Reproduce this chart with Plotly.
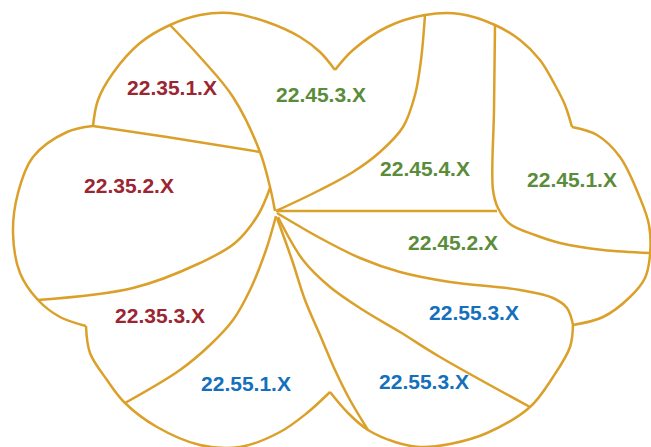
import plotly.graph_objects as go

# ---- data ----
region_labels = ["22.35.1.X", "22.35.2.X", "22.35.3.X",
                 "22.45.3.X", "22.45.4.X", "22.45.1.X", "22.45.2.X",
                 "22.55.3.X", "22.55.3.X", "22.55.1.X"]
region_groups = ["22.35", "22.35", "22.35",
                 "22.45", "22.45", "22.45", "22.45",
                 "22.55", "22.55", "22.55"]

# ---- styling / layout geometry (pixel space of the diagram) ----
group_colors = {"22.35": "#9B2632", "22.45": "#5A8C3A", "22.55": "#1470BC"}
line_color = "#DBA02A"

label_xy = [(172, 90), (129, 188), (160, 318),
            (321, 97), (425, 171), (572, 182), (453, 245),
            (474, 315), (424, 384), (246, 386)]

# outline lobes (cusps at the ends of each piece)
outline = [
    [(93, 126), (98, 100), (113, 73), (140, 43), (170, 25), (200, 15), (230, 13),
     (267, 22), (300, 37), (320, 52), (335, 70)],
    [(335, 70), (353, 50), (387, 27), (425, 15), (460, 14), (495, 25), (520, 40),
     (540, 60), (555, 85), (565, 105), (572, 127)],
    [(572, 127), (597, 135), (620, 157), (640, 198), (649, 225), (650, 255),
     (645, 278), (630, 297), (603, 317), (573, 325)],
    [(573, 325), (570, 347), (553, 377), (530, 407), (487, 433), (450, 444),
     (420, 447), (395, 442), (368, 430), (348, 413), (330, 392)],
    [(86, 326), (90, 353), (107, 380), (125, 403), (157, 427), (200, 445),
     (240, 447), (280, 432), (307, 413), (330, 392)],
    [(86, 326), (60, 317), (38, 300), (20, 273), (13, 233), (18, 193), (33, 157),
     (67, 132), (93, 126)],
]

dividers = [
    [(170, 25), (200, 57), (233, 97), (260, 152), (270, 187), (275, 211)],
    [(93, 126), (167, 137), (260, 152)],
    [(270, 188), (258, 215), (235, 243), (200, 263), (133, 288), (38, 300)],
    [(276, 216), (266, 250), (250, 290), (233, 320), (210, 345), (180, 370), (125, 403)],
    [(277, 218), (292, 260), (305, 300), (320, 335), (335, 370), (350, 400), (368, 430)],
    [(278, 217), (303, 260), (330, 287), (363, 310), (400, 332), (440, 357), (530, 407)],
    [(277, 213), (320, 238), (360, 258), (400, 272), (450, 282), (520, 290),
     (553, 298), (567, 308), (573, 325)],
    [(276, 211), (497, 211)],
    [(495, 25), (494, 110), (493, 190), (498, 208), (510, 224), (535, 235),
     (560, 243), (603, 250), (650, 253)],
    [(276, 211), (320, 190), (353, 172), (380, 152), (403, 127), (415, 95),
     (421, 60), (425, 15)],
]

fig = go.Figure()

for seg in outline + dividers:
    fig.add_trace(go.Scatter(
        x=[p[0] for p in seg], y=[p[1] for p in seg],
        mode="lines", line=dict(color=line_color, width=2.5, shape="spline", smoothing=1.0),
        hoverinfo="skip", showlegend=False))

fig.add_trace(go.Scatter(
    x=[p[0] for p in label_xy], y=[p[1] for p in label_xy],
    mode="text", text=region_labels,
    textposition="middle center",
    textfont=dict(family="Liberation Sans, Arial, sans-serif", size=21,
                  color=[group_colors[g] for g in region_groups], weight="bold"),
    hoverinfo="skip", showlegend=False))

fig.update_xaxes(range=[0, 651], visible=False, fixedrange=True)
fig.update_yaxes(range=[447, 0], visible=False, fixedrange=True)
fig.update_layout(width=651, height=447, margin=dict(l=0, r=0, t=0, b=0),
                  paper_bgcolor="white", plot_bgcolor="white")

fig.write_html("out.html", config={"displayModeBar": False},
               post_script="document.body.style.margin='0';document.body.style.overflow='hidden';")
